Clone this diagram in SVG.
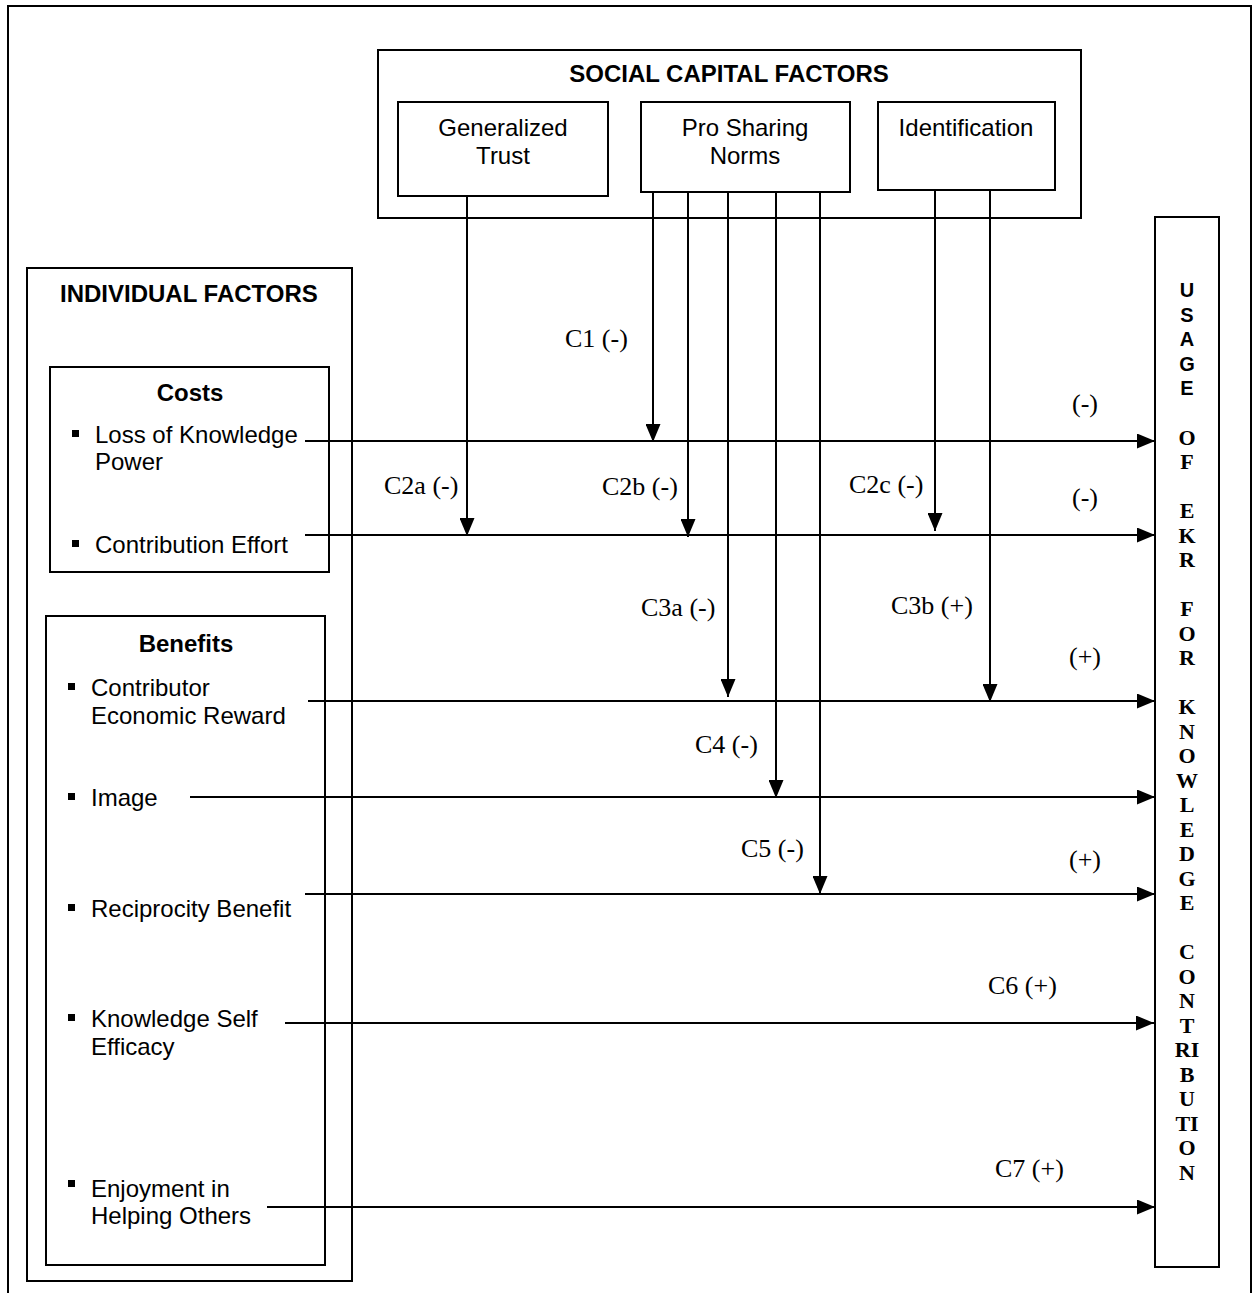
<svg xmlns="http://www.w3.org/2000/svg" width="1252" height="1293" viewBox="0 0 1252 1293">
  <style>
    .box { fill: none; stroke: #000; stroke-width: 2; }
    .wire { fill: none; stroke: #000; stroke-width: 2; }
    .head { font-family: "Liberation Sans", Arial, sans-serif; font-weight: bold; font-size: 24px; fill: #000; }
    .item { font-family: "Liberation Sans", Arial, sans-serif; font-size: 24px; fill: #000; }
    .lbl { font-family: "Liberation Serif", "Times New Roman", serif; font-size: 26px; fill: #000; }
    .vs { font-family: "Liberation Sans", Arial, sans-serif; font-weight: bold; font-size: 20px; fill: #000; text-anchor: middle; }
    .vt { font-family: "Liberation Serif", "Times New Roman", serif; font-weight: bold; font-size: 22px; fill: #000; text-anchor: middle; }
    .mid { text-anchor: middle; }
    .dot { fill: #000; }
  </style>
  <defs>
    <marker id="arrow" markerUnits="userSpaceOnUse" markerWidth="18" markerHeight="15" refX="18" refY="7.5" orient="auto">
      <path d="M0,0 L18,7.5 L0,15 Z" fill="#000"/>
    </marker>
  </defs>

  <rect width="1252" height="1293" fill="#fff"/>
  <!-- page frame -->
  <rect class="box" x="8" y="6" width="1243" height="1310"/>

  <!-- social capital factors -->
  <g id="social-capital">
    <rect class="box" x="378" y="50" width="703" height="168"/>
    <text class="head mid" x="729" y="82">SOCIAL CAPITAL FACTORS</text>
  </g>
  <g id="generalized-trust">
    <rect class="box" x="398" y="102" width="210" height="94"/>
    <text class="item mid" x="503" y="136">Generalized</text>
    <text class="item mid" x="503" y="164">Trust</text>
  </g>
  <g id="pro-sharing-norms">
    <rect class="box" x="641" y="102" width="209" height="90"/>
    <text class="item mid" x="745" y="136">Pro Sharing</text>
    <text class="item mid" x="745" y="164">Norms</text>
  </g>
  <g id="identification">
    <rect class="box" x="878" y="102" width="177" height="88"/>
    <text class="item mid" x="966" y="136">Identification</text>
  </g>

  <!-- individual factors -->
  <g id="individual-factors">
    <rect class="box" x="27" y="268" width="325" height="1013"/>
    <text class="head" x="60" y="302">INDIVIDUAL FACTORS</text>
  </g>
  <g id="costs">
    <rect class="box" x="50" y="367" width="279" height="205"/>
    <text class="head mid" x="190" y="401">Costs</text>
    <rect class="dot" x="72" y="430" width="7" height="7"/>
    <text class="item" x="95" y="443">Loss of Knowledge</text>
    <text class="item" x="95" y="470">Power</text>
    <rect class="dot" x="72" y="540" width="7" height="7"/>
    <text class="item" x="95" y="553">Contribution Effort</text>
  </g>
  <g id="benefits">
    <rect class="box" x="46" y="616" width="279" height="649"/>
    <text class="head mid" x="186" y="652">Benefits</text>
    <rect class="dot" x="68" y="683" width="7" height="7"/>
    <text class="item" x="91" y="696">Contributor</text>
    <text class="item" x="91" y="724">Economic Reward</text>
    <rect class="dot" x="68" y="793" width="7" height="7"/>
    <text class="item" x="91" y="806">Image</text>
    <rect class="dot" x="68" y="904" width="7" height="7"/>
    <text class="item" x="91" y="917">Reciprocity Benefit</text>
    <rect class="dot" x="68" y="1014" width="7" height="7"/>
    <text class="item" x="91" y="1027">Knowledge Self</text>
    <text class="item" x="91" y="1055">Efficacy</text>
    <rect class="dot" x="68" y="1180" width="7" height="7"/>
    <text class="item" x="91" y="1197">Enjoyment in</text>
    <text class="item" x="91" y="1224">Helping Others</text>
  </g>

  <!-- outcome: one letter per line -->
  <g id="ekr-contribution">
    <rect class="box" x="1155" y="217" width="64" height="1050"/>
    <text class="vs" x="1187" y="297">U</text>
    <text class="vs" x="1187" y="322">S</text>
    <text class="vs" x="1187" y="346">A</text>
    <text class="vs" x="1187" y="371">G</text>
    <text class="vs" x="1187" y="395">E</text>
    <text class="vt" x="1187" y="445">O</text>
    <text class="vt" x="1187" y="469">F</text>
    <text class="vt" x="1187" y="518">E</text>
    <text class="vt" x="1187" y="543">K</text>
    <text class="vt" x="1187" y="567">R</text>
    <text class="vt" x="1187" y="616">F</text>
    <text class="vt" x="1187" y="641">O</text>
    <text class="vt" x="1187" y="665">R</text>
    <text class="vt" x="1187" y="714">K</text>
    <text class="vt" x="1187" y="739">N</text>
    <text class="vt" x="1187" y="763">O</text>
    <text class="vt" x="1187" y="788">W</text>
    <text class="vt" x="1187" y="812">L</text>
    <text class="vt" x="1187" y="837">E</text>
    <text class="vt" x="1187" y="861">D</text>
    <text class="vt" x="1187" y="886">G</text>
    <text class="vt" x="1187" y="910">E</text>
    <text class="vt" x="1187" y="959">C</text>
    <text class="vt" x="1187" y="984">O</text>
    <text class="vt" x="1187" y="1008">N</text>
    <text class="vt" x="1187" y="1033">T</text>
    <text class="vt" x="1187" y="1057">RI</text>
    <text class="vt" x="1187" y="1082">B</text>
    <text class="vt" x="1187" y="1106">U</text>
    <text class="vt" x="1187" y="1131">TI</text>
    <text class="vt" x="1187" y="1155">O</text>
    <text class="vt" x="1187" y="1180">N</text>
  </g>

  <!-- connectors -->
  <g id="connectors">
    <!-- direct effects -->
    <line class="wire" x1="305" y1="441" x2="1155" y2="441" marker-end="url(#arrow)"/>
    <line class="wire" x1="305" y1="535" x2="1155" y2="535" marker-end="url(#arrow)"/>
    <line class="wire" x1="308" y1="701" x2="1155" y2="701" marker-end="url(#arrow)"/>
    <line class="wire" x1="190" y1="797" x2="1155" y2="797" marker-end="url(#arrow)"/>
    <line class="wire" x1="305" y1="894" x2="1155" y2="894" marker-end="url(#arrow)"/>
    <line class="wire" x1="285" y1="1023" x2="1154" y2="1023" marker-end="url(#arrow)"/>
    <line class="wire" x1="267" y1="1207" x2="1155" y2="1207" marker-end="url(#arrow)"/>
    <!-- moderating effects -->
    <line class="wire" x1="467" y1="196" x2="467" y2="536" marker-end="url(#arrow)"/>
    <line class="wire" x1="653" y1="192" x2="653" y2="442" marker-end="url(#arrow)"/>
    <line class="wire" x1="688" y1="192" x2="688" y2="537" marker-end="url(#arrow)"/>
    <line class="wire" x1="728" y1="192" x2="728" y2="697" marker-end="url(#arrow)"/>
    <line class="wire" x1="776" y1="192" x2="776" y2="798" marker-end="url(#arrow)"/>
    <line class="wire" x1="820" y1="192" x2="820" y2="894" marker-end="url(#arrow)"/>
    <line class="wire" x1="935" y1="190" x2="935" y2="531" marker-end="url(#arrow)"/>
    <line class="wire" x1="990" y1="190" x2="990" y2="702" marker-end="url(#arrow)"/>
  </g>

  <!-- path labels -->
  <g id="labels">
    <text class="lbl" x="565" y="347">C1 (-)</text>
    <text class="lbl" x="1072" y="412">(-)</text>
    <text class="lbl" x="384" y="494">C2a (-)</text>
    <text class="lbl" x="602" y="495">C2b (-)</text>
    <text class="lbl" x="849" y="493">C2c (-)</text>
    <text class="lbl" x="1072" y="506">(-)</text>
    <text class="lbl" x="641" y="616">C3a (-)</text>
    <text class="lbl" x="891" y="614">C3b (+)</text>
    <text class="lbl" x="1069" y="665">(+)</text>
    <text class="lbl" x="695" y="753">C4 (-)</text>
    <text class="lbl" x="741" y="857">C5 (-)</text>
    <text class="lbl" x="1069" y="868">(+)</text>
    <text class="lbl" x="988" y="994">C6 (+)</text>
    <text class="lbl" x="995" y="1177">C7 (+)</text>
  </g>
</svg>
